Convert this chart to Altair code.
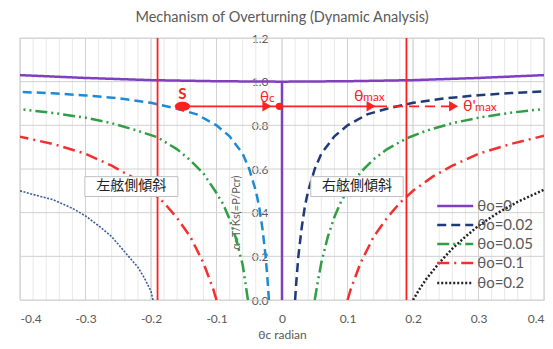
import altair as alt
import pandas as pd

W, H = 524, 262
FONT = "Lato, 'Noto Sans', sans-serif"
GRAY = "#595959"

# ---------------- data ----------------
# θo = 0 (purple), includes the vertical drop at θc = 0
p_x = [-0.4, -0.3, -0.2, -0.1, 0.0, 0.0, 0.0, 0.1, 0.2, 0.3, 0.4]
p_y = [1.03, 1.017, 1.007, 1.002, 1.0, 0.0, 1.0, 1.002, 1.007, 1.017, 1.03]

# right side (θc > 0)
r02_x = [0.02, 0.022, 0.025, 0.03, 0.035, 0.04, 0.05, 0.06, 0.08, 0.1, 0.13, 0.16, 0.2, 0.25, 0.3, 0.35, 0.4]
r02_y = [0.0, 0.09, 0.2, 0.33, 0.43, 0.5, 0.6, 0.67, 0.75, 0.8, 0.85, 0.876, 0.903, 0.924, 0.938, 0.948, 0.955]
r05_x = [0.05, 0.055, 0.06, 0.07, 0.08, 0.09, 0.1, 0.12, 0.14, 0.16, 0.19, 0.22, 0.26, 0.3, 0.35, 0.4]
r05_y = [0.0, 0.09, 0.17, 0.29, 0.38, 0.45, 0.5, 0.585, 0.645, 0.69, 0.74, 0.775, 0.81, 0.835, 0.858, 0.875]
r10_x = [0.1, 0.105, 0.11, 0.12, 0.13, 0.14, 0.16, 0.18, 0.2, 0.23, 0.26, 0.3, 0.35, 0.4]
r10_y = [0.0, 0.05, 0.09, 0.17, 0.23, 0.29, 0.375, 0.445, 0.5, 0.565, 0.615, 0.67, 0.715, 0.752]
r20_x = [0.2, 0.21, 0.22, 0.24, 0.26, 0.28, 0.3, 0.33, 0.36, 0.4]
r20_y = [0.0, 0.05, 0.095, 0.17, 0.235, 0.29, 0.34, 0.4, 0.45, 0.505]

# left side (θc < 0)
l02_x = [-0.02, -0.022, -0.025, -0.03, -0.035, -0.04, -0.05, -0.06, -0.08, -0.1, -0.13, -0.16, -0.2, -0.25, -0.3, -0.35, -0.4]
l02_y = [0.0, 0.09, 0.2, 0.33, 0.43, 0.5, 0.6, 0.67, 0.75, 0.8, 0.85, 0.876, 0.903, 0.924, 0.937, 0.947, 0.953]
l05_x = [-0.052, -0.056, -0.06, -0.07, -0.08, -0.09, -0.1, -0.12, -0.14, -0.16, -0.19, -0.22, -0.26, -0.3, -0.35, -0.4]
l05_y = [0.0, 0.08, 0.16, 0.28, 0.37, 0.44, 0.49, 0.58, 0.64, 0.69, 0.745, 0.775, 0.81, 0.835, 0.857, 0.874]
l10_x = [-0.1, -0.105, -0.11, -0.12, -0.13, -0.14, -0.16, -0.18, -0.2, -0.23, -0.26, -0.3, -0.35, -0.4]
l10_y = [0.0, 0.05, 0.09, 0.17, 0.23, 0.29, 0.375, 0.445, 0.5, 0.565, 0.615, 0.67, 0.715, 0.748]
l20_x = [-0.197, -0.2, -0.21, -0.22, -0.24, -0.26, -0.28, -0.3, -0.32, -0.35, -0.37, -0.4]
l20_y = [0.0, 0.04, 0.1, 0.15, 0.22, 0.29, 0.34, 0.385, 0.42, 0.46, 0.475, 0.5]

series_names = ["θo=0", "θo=0.02", "θo=0.05", "θo=0.1", "θo=0.2"]
series_colors = ["#7F3FBF", "#1F3A78", "#2F9E44", "#F23030", "#222222"]
series_dash = [[1, 0], [9, 5], [12, 4, 2, 4, 2, 4], [12, 5, 2, 5], [2, 2]]

left_series = [
    (l02_x, l02_y, "#1E8AD6", [9, 5], 2.5),
    (l05_x, l05_y, "#2F9E44", [12, 4, 2, 4, 2, 4], 2.5),
    (l10_x, l10_y, "#F23030", [12, 5, 2, 5], 2.5),
    (l20_x, l20_y, "#3A5A9A", [2, 1.5], 1.6),
]

red_lines = [-0.19, 0.19]

# annotations
arrow_y = 0.887
s_x = -0.152
thc_x = -0.004
thmax_x = 0.145
thpmax_x = 0.262
heads_x = [-0.023, 0.136, 0.262]

boxes = pd.DataFrame({
    "x": [-0.301, 0.044], "x2": [-0.159, 0.185],
    "y": [0.474, 0.474], "y2": [0.565, 0.565],
    "tx": [-0.23, 0.1145], "ty": [0.52, 0.52],
    "label": ["左舷側傾斜", "右舷側傾斜"],
})

# legend placement (inside the plot, lower right)
legend_rows_y = [0.431, 0.344, 0.257, 0.169, 0.078]
legend_sym_x = (0.237, 0.292)
legend_text_x = 0.298

y_ticks = [0.0, 0.2, 0.4, 0.6, 0.8, 1.0, 1.2]
x_major = [-0.4, -0.3, -0.2, -0.1, 0.0, 0.1, 0.2, 0.3, 0.4]
x_minor = [round(-0.4 + 0.02 * i, 2) for i in range(41)]

y_title = "α=T/Ks(=P/Pcr)"
y_title_pos = (-0.069, 0.40)

# ---------------- build ----------------
rows = []
for name, xs, ys in [("θo=0", p_x, p_y), ("θo=0.02", r02_x, r02_y), ("θo=0.05", r05_x, r05_y),
                     ("θo=0.1", r10_x, r10_y), ("θo=0.2", r20_x, r20_y)]:
    for i, (a, b) in enumerate(zip(xs, ys)):
        rows.append({"series": name, "x": a, "y": b, "i": i})
df_main = pd.DataFrame(rows)

xscale = alt.Scale(domain=[-0.4, 0.4], nice=False, zero=False)
yscale = alt.Scale(domain=[0, 1.2], nice=False)
cscale = alt.Scale(domain=series_names, range=series_colors)
dscale = alt.Scale(domain=series_names, range=series_dash)

xaxis = alt.Axis(
    values=x_major, domain=False, ticks=False, grid=False, labelOverlap=False,
    labelExpr="abs(datum.value) < 0.001 ? '0' : (datum.value < 0 ? '-' : '') + format(abs(datum.value), '.1f')",
    labelColor=GRAY, labelFontSize=12, labelFont=FONT, labelPadding=13,
    title="θc radian", titleColor=GRAY, titleFontSize=12, titleFont=FONT,
    titleFontWeight="normal", titlePadding=5,
)
yaxis = alt.Axis(
    values=y_ticks, format=".1f", offset=-W / 2, domain=False, ticks=False, grid=False,
    labelColor=GRAY, labelFontSize=12, labelFont=FONT, labelPadding=14, title=None,
)

# gridlines
grid_minor = alt.Chart(pd.DataFrame({"x": x_minor})).mark_rule(color="#E8E8E8", strokeWidth=1).encode(
    x=alt.X("x:Q", scale=xscale, axis=xaxis))
grid_major = alt.Chart(pd.DataFrame({"x": x_major})).mark_rule(color="#D0D0D0", strokeWidth=1).encode(
    x=alt.X("x:Q", scale=xscale))
grid_h = alt.Chart(pd.DataFrame({"y": y_ticks})).mark_rule(color="#D0D0D0", strokeWidth=1).encode(
    y=alt.Y("y:Q", scale=yscale, axis=yaxis))

main = alt.Chart(df_main).mark_line(strokeWidth=2.5, clip=True).encode(
    x=alt.X("x:Q", scale=xscale),
    y=alt.Y("y:Q", scale=yscale),
    color=alt.Color("series:N", scale=cscale, legend=None),
    strokeDash=alt.StrokeDash("series:N", scale=dscale, legend=None),
    order="i:Q",
)

layers = []
for xs, ys, col, dash, sw in left_series:
    d = pd.DataFrame({"x": xs, "y": ys, "i": range(len(xs))})
    layers.append(alt.Chart(d).mark_line(color=col, strokeDash=dash, strokeWidth=sw, clip=True).encode(
        x=alt.X("x:Q", scale=xscale), y=alt.Y("y:Q", scale=yscale), order="i:Q"))

# legend drawn in the plot
df_leg = pd.DataFrame({"series": series_names, "ly": legend_rows_y})
leg_sym = alt.Chart(df_leg).mark_rule(strokeWidth=2.5).encode(
    x=alt.X(datum=legend_sym_x[0], scale=xscale), x2=alt.X2(datum=legend_sym_x[1]),
    y=alt.Y("ly:Q", scale=yscale),
    color=alt.Color("series:N", scale=cscale, legend=None),
    strokeDash=alt.StrokeDash("series:N", scale=dscale, legend=None),
)
leg_txt = alt.Chart(df_leg).mark_text(align="left", baseline="middle", fontSize=15, color=GRAY,
                                      font=FONT).encode(
    x=alt.X(datum=legend_text_x, scale=xscale), y=alt.Y("ly:Q", scale=yscale), text="series:N")

red = alt.Chart(pd.DataFrame({"x": red_lines})).mark_rule(color="#FF2020", strokeWidth=1.8).encode(
    x=alt.X("x:Q", scale=xscale))

seg = pd.DataFrame({"x": [s_x], "x2": [thmax_x], "y": [arrow_y]})
arrow1 = alt.Chart(seg).mark_rule(color="#FF2020", strokeWidth=1.8).encode(
    x=alt.X("x:Q", scale=xscale), x2="x2:Q", y=alt.Y("y:Q", scale=yscale))
seg2 = pd.DataFrame({"x": [thmax_x], "x2": [thpmax_x], "y": [arrow_y]})
arrow2 = alt.Chart(seg2).mark_rule(color="#FF2020", strokeWidth=1.8, strokeDash=[10, 6]).encode(
    x=alt.X("x:Q", scale=xscale), x2="x2:Q", y=alt.Y("y:Q", scale=yscale))
heads = alt.Chart(pd.DataFrame({"x": heads_x, "y": [arrow_y] * 3})).mark_point(
    shape="triangle-right", filled=True, color="#FF2020", size=110, opacity=1).encode(
    x=alt.X("x:Q", scale=xscale), y=alt.Y("y:Q", scale=yscale))
s_pt = alt.Chart(pd.DataFrame({"x": [s_x], "y": [arrow_y]})).mark_point(
    shape="M -1 0 A 1 0.62 0 1 0 1 0 A 1 0.62 0 1 0 -1 0 Z", filled=True, color="#FF2020",
    size=230, opacity=1).encode(x=alt.X("x:Q", scale=xscale), y=alt.Y("y:Q", scale=yscale))
c_pt = alt.Chart(pd.DataFrame({"x": [thc_x], "y": [arrow_y]})).mark_point(
    shape="circle", filled=True, color="#FF2020", size=55, opacity=1).encode(
    x=alt.X("x:Q", scale=xscale), y=alt.Y("y:Q", scale=yscale))

lab = pd.DataFrame({
    "x": [s_x, -0.0336, -0.0198, 0.110, 0.1237, 0.2763, 0.2947],
    "y": [0.92, 0.906, 0.906, 0.910, 0.910, 0.864, 0.864],
    "t": ["S", "θ", "c", "θ", "max", "θ'", "max"],
    "fs": [15, 15, 12, 16, 12, 16, 12],
    "al": ["center", "left", "left", "left", "left", "left", "left"],
    "fw": ["bold", "normal", "normal", "normal", "normal", "normal", "normal"],
})
texts = []
for _, r in lab.iterrows():
    texts.append(alt.Chart(pd.DataFrame([r])).mark_text(
        color="#FF2020", fontSize=int(r.fs), align=r.al, baseline="alphabetic", font=FONT,
        fontWeight=r.fw).encode(x=alt.X("x:Q", scale=xscale), y=alt.Y("y:Q", scale=yscale), text="t:N"))

ytitle = alt.Chart(pd.DataFrame({"x": [y_title_pos[0]], "y": [y_title_pos[1]], "t": [y_title]})).mark_text(
    angle=270, fontSize=11, color=GRAY, font=FONT, align="center", baseline="middle").encode(
    x=alt.X("x:Q", scale=xscale), y=alt.Y("y:Q", scale=yscale), text="t:N")

box = alt.Chart(boxes).mark_rect(fill="white", stroke="#BFBFBF", strokeWidth=1).encode(
    x=alt.X("x:Q", scale=xscale), x2="x2:Q", y=alt.Y("y:Q", scale=yscale), y2="y2:Q")
box_t = alt.Chart(boxes).mark_text(fontSize=14, color="#222222", font="Noto Sans CJK JP",
                                   baseline="middle").encode(
    x=alt.X("tx:Q", scale=xscale), y=alt.Y("ty:Q", scale=yscale), text="label:N")

chart = alt.layer(grid_minor, grid_major, grid_h, ytitle, main, *layers, red, box, box_t,
                  leg_sym, leg_txt, arrow1, arrow2, heads, s_pt, c_pt, *texts).properties(
    width=W, height=H,
    title=alt.TitleParams("Mechanism of Overturning (Dynamic Analysis)", fontSize=14.5, color=GRAY,
                          font=FONT, fontWeight="normal", offset=7),
    padding={"left": 12, "top": 30, "right": 1, "bottom": 41},
    autosize=alt.AutoSizeParams(type="none"),
).configure_view(strokeWidth=0).configure(background="white")

chart.save("out.html", embed_options={"renderer": "svg", "actions": False})
